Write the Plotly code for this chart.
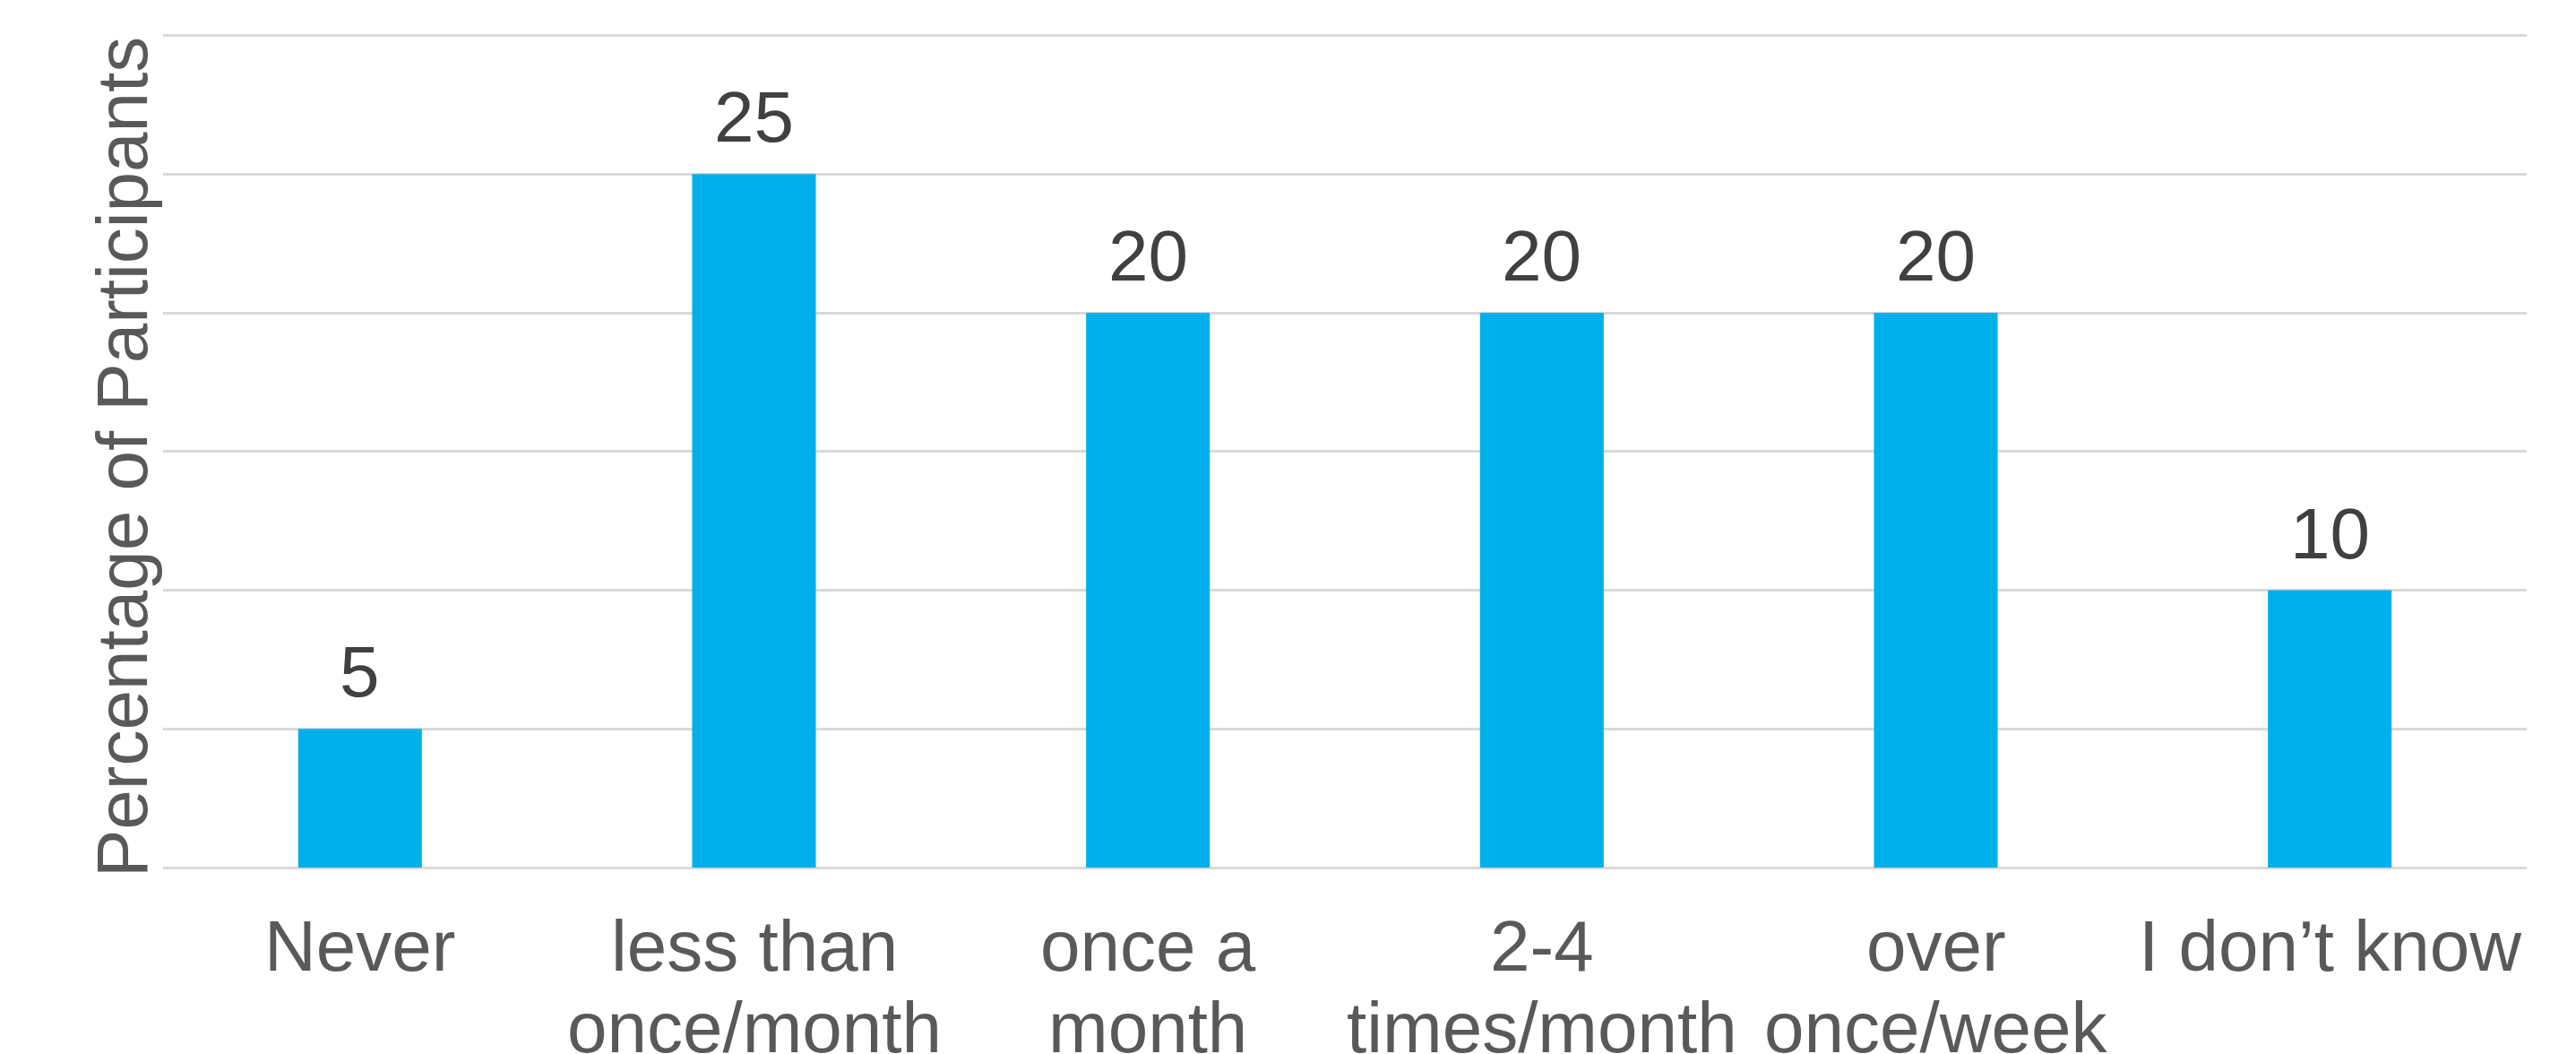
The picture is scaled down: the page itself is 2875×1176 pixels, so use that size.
import plotly.graph_objects as go

categories = ["Never", "less than once/month", "once a month", "2-4 times/month", "over once/week", "I don\u2019t know"]
label_line1 = ["Never", "less than", "once a", "2-4", "over", "I don\u2019t know"]
label_line2 = ["", "once/month", "month", "times/month", "once/week", ""]
values = [5, 25, 20, 20, 20, 10]
y_ticks = [0, 5, 10, 15, 20, 25, 30]

FONT = "Liberation Sans, Arial, sans-serif"

fig = go.Figure()
fig.add_trace(go.Bar(x=categories, y=values, marker=dict(color="#00B0EA", line=dict(width=0)),
                     hoverinfo="skip"))

ann = []
for c, v in zip(categories, values):
    ann.append(dict(x=c, y=v, xref="x", yref="y", text=str(v), showarrow=False,
                    yanchor="bottom", yshift=17, font=dict(family=FONT, size=80, color="#404040")))
for c, l1, l2 in zip(categories, label_line1, label_line2):
    ann.append(dict(x=c, y=0, xref="x", yref="y", text=l1, showarrow=False,
                    yanchor="top", yshift=-41, font=dict(family=FONT, size=80, color="#595959")))
    if l2:
        ann.append(dict(x=c, y=0, xref="x", yref="y", text=l2, showarrow=False,
                        yanchor="top", yshift=-132, font=dict(family=FONT, size=80, color="#595959")))
ann.append(dict(x=0, y=0.5, xref="paper", yref="paper", text="Percentage of Participants",
                showarrow=False, textangle=-90, xanchor="center", yanchor="middle",
                xshift=-46, yshift=-7, font=dict(family=FONT, size=80, color="#595959")))

fig.update_layout(
    width=2875, height=1176,
    margin=dict(l=174, r=63, t=30, b=216),
    paper_bgcolor="white", plot_bgcolor="white",
    bargap=0.686,
    showlegend=False,
    annotations=ann,
    font=dict(family=FONT),
)
fig.update_xaxes(showticklabels=False, showgrid=False, showline=False, ticks="")
fig.update_yaxes(range=[0, 30.05], tickvals=y_ticks, showticklabels=False, showgrid=True,
                 gridcolor="#D9D9D9", gridwidth=2.5, zeroline=True, zerolinecolor="#D9D9D9",
                 zerolinewidth=2.5, showline=False, ticks="")

fig.write_html("out.html")
